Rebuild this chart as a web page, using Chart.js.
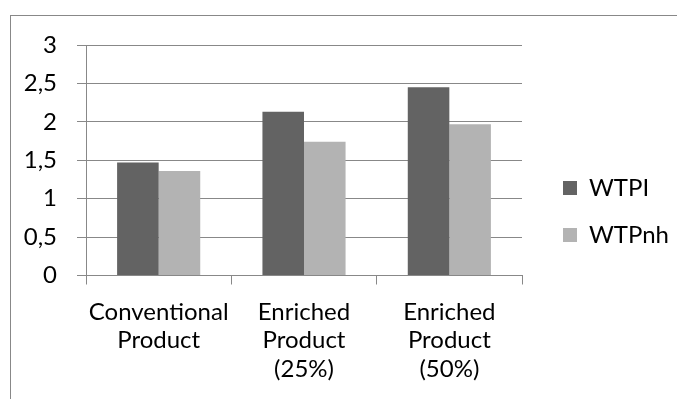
<!DOCTYPE html>
<html>
<head>
<meta charset="utf-8">
<script src="https://cdn.jsdelivr.net/npm/chart.js@4/dist/chart.umd.min.js"></script>
<style>
  html, body { margin: 0; padding: 0; background: #fff; overflow: hidden; }
  #frame {
    position: absolute; left: 10px; top: 15px;
    width: 800px; height: 500px;
    border-left: 1px solid #888; border-top: 1px solid #888;
  }
  #wrap { position: absolute; left: 0; top: 0; width: 677px; height: 399px; }
</style>
</head>
<body>
<div id="frame"></div>
<div id="wrap"><canvas id="wtpChart"></canvas></div>
<script>
// Categories and series
const categories = [
  ['Conventional', 'Product'],
  ['Enriched', 'Product', '(25%)'],
  ['Enriched', 'Product', '(50%)'],
];
const wtpiValues = [1.47, 2.13, 2.45];
const wtpnhValues = [1.36, 1.74, 1.97];
const yTicks = [0, 0.5, 1, 1.5, 2, 2.5, 3];

const FONT = 'Lato, "Open Sans", sans-serif';
const GRID = '#888888';

// Nudge legend to the right of the plot and re-centre it vertically,
// like the Excel layout
const legendShift = {
  id: 'legendShift',
  afterLayout(chart) {
    const lg = chart.legend;
    lg.left += 18;
    lg.right += 18;
    lg.bottom -= 21;
    lg.height -= 21;
  },
};

function initChart() {
  const ctx = document.getElementById('wtpChart').getContext('2d');

  // eslint-disable-next-line no-undef
  new Chart(ctx, {
    type: 'bar',
    data: {
      labels: categories,
      datasets: [
        {
          label: 'WTPI',
          data: wtpiValues,
          backgroundColor: '#636363',
        },
        {
          label: 'WTPnh',
          data: wtpnhValues,
          backgroundColor: '#b3b3b3',
        },
      ],
    },
    options: {
      responsive: true,
      maintainAspectRatio: false,
      animation: false,
      layout: { padding: { top: 45, left: 0, right: 16, bottom: 0 } },
      datasets: {
        bar: { categoryPercentage: 0.572, barPercentage: 1 },
      },
      plugins: {
        legend: {
          position: 'right',
          labels: {
            boxWidth: 14,
            boxHeight: 14,
            padding: 23,
            color: '#000',
            font: { family: FONT, size: 24 },
          },
        },
        tooltip: { enabled: false },
      },
      scales: {
        y: {
          min: 0,
          max: 3,
          afterFit: (scale) => { scale.width = 86; },
          afterBuildTicks: (scale) => {
            scale.ticks = yTicks.map((v) => ({ value: v }));
          },
          border: { color: GRID, width: 1 },
          grid: { color: GRID, tickLength: 9, lineWidth: 1 },
          ticks: {
            padding: 20,
            color: '#000',
            font: { family: FONT, size: 24 },
            callback: (value) => String(value).replace('.', ','),
          },
        },
        x: {
          afterFit: (scale) => { scale.height = 123.5; },
          border: { color: GRID, width: 1 },
          grid: { drawOnChartArea: false, color: GRID, tickLength: 9 },
          ticks: {
            padding: 13,
            color: '#000',
            font: { family: FONT, size: 24, lineHeight: 1.2 },
            maxRotation: 0,
            autoSkip: false,
          },
        },
      },
    },
    plugins: [legendShift],
  });
}

document.addEventListener('DOMContentLoaded', initChart);
</script>
</body>
</html>
